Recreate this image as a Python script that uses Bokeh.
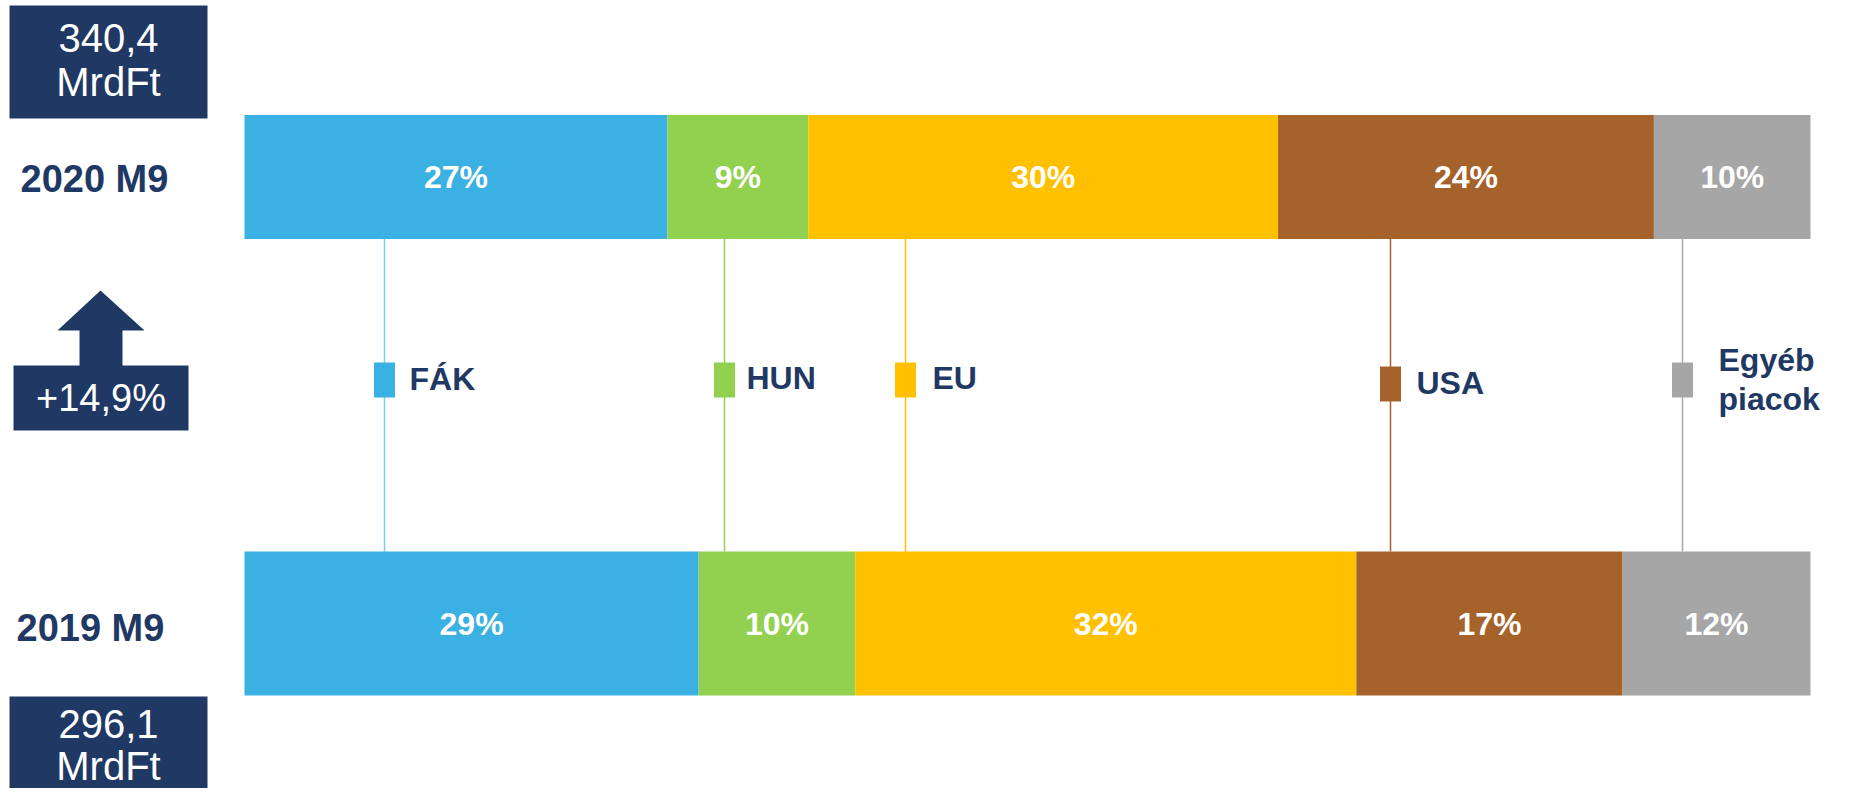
from bokeh.plotting import figure
from bokeh.models import Range1d
from bokeh.embed import file_html
from bokeh.resources import INLINE
from bokeh.core.properties import value

# ---- data ----
markets = ["FÁK", "HUN", "EU", "USA", "Egyéb piacok"]
periods = ["2020 M9", "2019 M9"]
share_2020 = [27, 9, 30, 24, 10]
share_2019 = [29, 10, 32, 17, 12]
totals = [["340,4", "MrdFt"], ["296,1", "MrdFt"]]
growth = "+14,9%"

# ---- style ----
colors = ["#3BB0E2", "#92D050", "#FFC000", "#A5622A", "#A6A6A6"]
line_colors = ["#7CCBEC", "#92D050", "#FFC000", "#A5622A", "#A6A6A6"]
navy = "#1F3864"
FONT = value("Liberation Sans")

W, H = 1835, 788
PX_PER_PCT = 15.66
BAR_LEFT = 244

p = figure(width=W, height=H, output_backend="svg", toolbar_location=None,
           x_range=Range1d(-BAR_LEFT / PX_PER_PCT, (W - BAR_LEFT) / PX_PER_PCT),
           y_range=Range1d(H, 0), min_border=0)
p.extra_x_ranges = {"px": Range1d(0, W)}
p.axis.visible = False
p.grid.visible = False
p.outline_line_color = None
p.background_fill_color = "white"
p.border_fill_color = "white"

bar_y = [176.5, 623]
bar_h = [124, 144]

def cum(vals):
    lefts, rights, acc = [], [], 0
    for v in vals:
        lefts.append(acc)
        acc += v
        rights.append(acc)
    return lefts, rights

# connector lines (behind bars)
legend_px = [384, 724, 905, 1390, 1682]
for xp, lc in zip(legend_px, line_colors):
    p.segment(x0=[xp], y0=[bar_y[0] + bar_h[0] / 2], x1=[xp], y1=[bar_y[1] - bar_h[1] / 2],
              line_color=lc, line_width=1.5, x_range_name="px")

for shares, yc, hh in zip([share_2020, share_2019], bar_y, bar_h):
    lefts, rights = cum(shares)
    p.hbar(y=[yc] * len(shares), left=lefts, right=rights, height=hh,
           fill_color=colors, line_color=None)
    p.text(x=[(l + r) / 2 for l, r in zip(lefts, rights)], y=[yc] * len(shares),
           text=[f"{s}%" for s in shares], text_color="white", text_font=FONT,
           text_font_style="bold", text_font_size="32px", text_align="center",
           text_baseline="middle")

# legend squares + labels
sq_top = [362, 362, 362, 366, 362]
for xp, c, t in zip(legend_px, colors, sq_top):
    p.quad(left=[xp - 10.5], right=[xp + 10.5], top=[t], bottom=[t + 35],
           fill_color=c, line_color=None, x_range_name="px")
label_x = [409, 746, 932, 1416, 1718]
label_y = [378, 377, 377, 382, 359]
label_txt = ["FÁK", "HUN", "EU", "USA", "Egyéb"]
p.text(x=label_x, y=label_y, text=label_txt,
       text_color=navy, text_font=FONT, text_font_style="bold", text_font_size="32px",
       text_align="left", text_baseline="middle", x_range_name="px")
p.text(x=[1718], y=[398], text=["piacok"], text_color=navy, text_font=FONT,
       text_font_style="bold", text_font_size="32px", text_align="left",
       text_baseline="middle", x_range_name="px")

# period labels
p.text(x=[20, 16], y=[178, 627], text=periods, text_color=navy,
       text_font=FONT, text_font_style="bold", text_font_size="38px",
       text_align="left", text_baseline="middle", x_range_name="px")

# total boxes
p.quad(left=[9, 9], right=[207, 207], top=[5, 696],
       bottom=[118, 800], fill_color=navy, line_color=None, x_range_name="px")
box_text_y = [[37.5, 81], [723, 765]]
for tot, ys in zip(totals, box_text_y):
    p.text(x=[108] * 2, y=ys, text=tot, text_color="white",
           text_font=FONT, text_font_size="40px", text_align="center",
           text_baseline="middle", x_range_name="px")

# growth arrow + box
ax = [100, 144, 122, 122, 79, 79, 57]
ay = [290, 330, 330, 366, 366, 330, 330]
p.patch(x=ax, y=ay, fill_color=navy, line_color=None, x_range_name="px")
p.quad(left=[13], right=[188], top=[365], bottom=[430], fill_color=navy,
       line_color=None, x_range_name="px")
p.text(x=[100.5], y=[397], text=[growth], text_color="white", text_font=FONT,
       text_font_size="38px", text_align="center", text_baseline="middle",
       x_range_name="px")

open("out.html", "w").write(file_html(p, INLINE))
